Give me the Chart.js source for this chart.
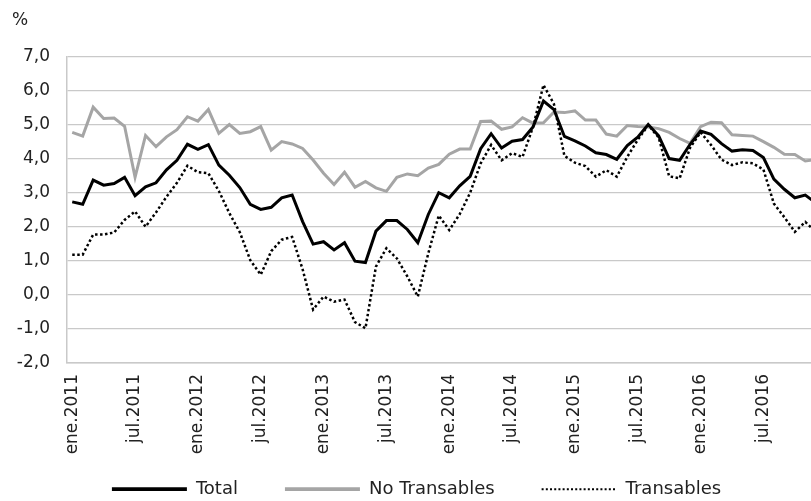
<!DOCTYPE html>
<html>
<head>
<meta charset="utf-8">
<script src="https://cdn.jsdelivr.net/npm/chart.js@4/dist/chart.umd.min.js"></script>
<style>
  html, body { margin: 0; padding: 0; background: #fff; overflow: hidden; }
  #wrap { position: relative; width: 821px; height: 501px; }
</style>
</head>
<body>
<div id="wrap"><canvas id="myChart"></canvas></div>
<script>
// months / years for the category axis
const meses = ["ene", "feb", "mar", "abr", "may", "jun", "jul", "ago", "sep", "oct", "nov", "dic"];
const anios = [2011, 2012, 2013, 2014, 2015, 2016];

// series, % (ene.2011 - dic.2016)
const total = [
  2.73, 2.66, 3.37, 3.22, 3.27, 3.45, 2.91, 3.17, 3.29, 3.67, 3.95, 4.42,
  4.27, 4.41, 3.81, 3.51, 3.15, 2.66, 2.51, 2.57, 2.85, 2.93, 2.15, 1.49,
  1.56, 1.32, 1.53, 0.99, 0.95, 1.87, 2.18, 2.18, 1.92, 1.53, 2.36, 3.0,
  2.85, 3.2, 3.48, 4.29, 4.73, 4.31, 4.51, 4.56, 4.93, 5.69, 5.44, 4.65,
  4.52, 4.37, 4.17, 4.12, 3.98, 4.38, 4.63, 5.0, 4.67, 4.0, 3.95, 4.42,
  4.81, 4.71, 4.44, 4.22, 4.26, 4.24, 4.03, 3.4, 3.1, 2.85, 2.93, 2.7
];
const noTransables = [
  4.77, 4.66, 5.51, 5.18, 5.19, 4.95, 3.45, 4.68, 4.35, 4.64, 4.85, 5.23,
  5.1, 5.44, 4.74, 5.0, 4.74, 4.79, 4.94, 4.25, 4.5, 4.43, 4.3, 3.96,
  3.57, 3.24, 3.6, 3.16, 3.33, 3.14, 3.04, 3.45, 3.55, 3.5, 3.72, 3.83,
  4.13, 4.28, 4.28, 5.09, 5.1, 4.86, 4.93, 5.2, 5.04, 5.05, 5.37, 5.35,
  5.4, 5.13, 5.13, 4.72, 4.66, 4.97, 4.94, 4.93, 4.88, 4.77, 4.59, 4.45,
  4.94, 5.07, 5.05, 4.7, 4.68, 4.66, 4.5, 4.33, 4.13, 4.12, 3.93, 3.97
];
const transables = [
  1.18, 1.18, 1.77, 1.77, 1.83, 2.2, 2.45, 2.0, 2.42, 2.88, 3.29, 3.79,
  3.6, 3.57, 3.05, 2.4, 1.84, 1.02, 0.59, 1.28, 1.62, 1.7, 0.75, -0.43,
  -0.05, -0.2, -0.14, -0.8, -0.98, 0.83, 1.37, 1.07, 0.54, -0.05, 1.22, 2.33,
  1.9, 2.37, 3.0, 3.86, 4.4, 3.95, 4.16, 4.05, 4.93, 6.16, 5.6, 4.08,
  3.88, 3.78, 3.47, 3.66, 3.47, 4.05, 4.55, 4.98, 4.62, 3.48, 3.42, 4.32,
  4.77, 4.4, 3.97, 3.81, 3.89, 3.86, 3.68, 2.68, 2.28, 1.85, 2.14, 1.85
];

// y axis ticks
const yMin = -2;
const yMax = 7;

var labels = [];
anios.forEach((a) => meses.forEach((m) => labels.push(m + "." + a)));

const fontFam = "'DejaVu Sans', sans-serif";
const gridGrey = "#c9c9c9";
const legendPad = 47;

// legend: keep a short box, draw the row lower (like the excel one)
const legendFix = {
  id: "legendFix",
  beforeLayout(chart) {
    const lg = chart.legend;
    if (lg && !lg._fixed) {
      const fit = lg.fit;
      lg.fit = function () {
        fit.call(this);
        this.height = 38;
      };
      lg._fixed = true;
    }
  },
  afterLayout(chart) {
    const lg = chart.legend;
    if (!lg) return;
    lg.top = 491 - legendPad - 10.8;
    lg.bottom = chart.height;
    lg.height = lg.bottom - lg.top;
  },
};

var ctx = document.getElementById("myChart").getContext("2d");
var lineChart = new Chart(ctx, {
  type: "line",
  data: {
    labels: labels,
    datasets: [
      {
        label: "Total",
        data: total,
        borderColor: "#000000",
        backgroundColor: "#000000",
        borderWidth: 3,
      },
      {
        label: "No Transables",
        data: noTransables,
        borderColor: "#a5a5a5",
        backgroundColor: "#a5a5a5",
        borderWidth: 3,
      },
      {
        label: "Transables",
        data: transables,
        borderColor: "#000000",
        backgroundColor: "#000000",
        borderWidth: 2.5,
        borderDash: [2.5, 2.5],
      },
    ],
  },
  plugins: [legendFix],
  options: {
    responsive: true,
    maintainAspectRatio: false,
    animation: false,
    layout: { padding: { left: 12, right: 0, top: 0, bottom: 0 } },
    elements: {
      point: { radius: 0, hoverRadius: 0 },
      line: { tension: 0, fill: false, borderJoinStyle: "miter" },
    },
    plugins: {
      tooltip: { enabled: false },
      title: {
        display: true,
        text: "%",
        align: "start",
        color: "#222",
        font: { family: fontFam, size: 17, weight: "normal" },
        padding: { top: 10, bottom: 26 },
      },
      legend: {
        position: "bottom",
        labels: {
          color: "#222",
          font: { family: fontFam, size: 18 },
          usePointStyle: true,
          pointStyle: "line",
          pointStyleWidth: 75,
          boxWidth: 75,
          padding: legendPad,
          generateLabels: function (chart) {
            return chart.data.datasets.map((ds, i) => ({
              text: ds.label,
              fillStyle: ds.borderColor,
              strokeStyle: ds.borderColor,
              lineWidth: ds.borderDash ? 2 : ds.borderWidth + 0.7,
              lineDash: ds.borderDash ? [2, 2.2] : [],
              pointStyle: "line",
              fontColor: "#222",
              hidden: false,
              datasetIndex: i,
            }));
          },
        },
      },
    },
    scales: {
      x: {
        offset: true,
        grid: { display: false, drawTicks: false },
        border: { display: true, color: gridGrey, width: 1.5 },
        ticks: {
          autoSkip: false,
          maxRotation: 90,
          minRotation: 90,
          padding: 11,
          color: "#222",
          font: { family: fontFam, size: 17 },
          callback: function (val, i) {
            return i % 6 === 0 ? labels[i] : "";
          },
        },
        afterFit: function (scale) {
          scale.height = 100;
          scale.paddingLeft = 0;
          scale.paddingRight = 0;
        },
      },
      y: {
        min: yMin,
        max: yMax,
        grid: { color: gridGrey, lineWidth: 1.3, drawTicks: false },
        border: { display: true, color: gridGrey, width: 1.5 },
        ticks: {
          stepSize: 1,
          padding: 17,
          color: "#222",
          font: { family: fontFam, size: 17 },
          callback: function (v) {
            return v.toFixed(1).replace(".", ",");
          },
        },
        afterFit: function (scale) {
          scale.width = 55;
        },
      },
    },
  },
});
</script>
</body>
</html>
